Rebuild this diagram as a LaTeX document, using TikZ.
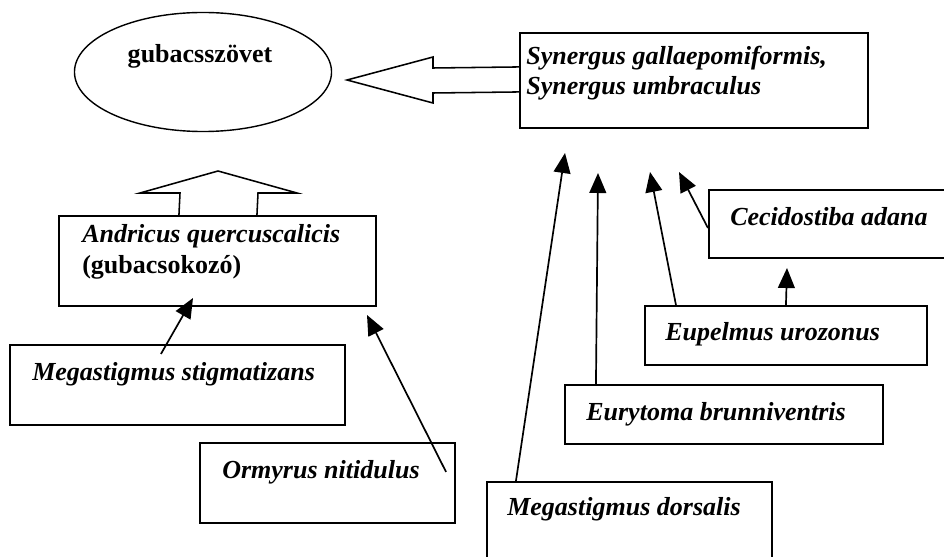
\documentclass[tikz,border=0pt]{standalone}
\usepackage{fontspec}
\setmainfont{Liberation Serif}
\usetikzlibrary{arrows.meta,positioning,shapes.geometric,fit,calc}

\begin{document}
\begin{tikzpicture}[x=0.025cm,y=-0.025cm,
  doboz/.style={draw,line width=1.5pt,inner sep=0pt},
  felirat/.style={font=\fontsize{18.5}{22}\selectfont\bfseries\itshape,inner sep=0pt,align=left},
  nyil/.style={line width=1.2pt,-{Triangle[length=0.5cm,width=0.42cm]}},
  tomor/.style={line width=1.1pt,line join=miter}]
  \useasboundingbox (0,0) rectangle (944,557);
  \node[ellipse,draw,line width=1pt,minimum width=6.425cm,minimum height=2.975cm] (gub) at (203,72) {};
  \node[felirat,font=\fontsize{18.5}{22}\selectfont\bfseries,anchor=base] (gub-t) at (200,63) {gubacsszövet};
  \foreach \n/\a/\b/\c/\d in {synb/520/33/868/128, andr/59/216/376/306, mstig/10/345/345/425,
                              ormy/200/443/455/523, mdors/487/482/772/580, euryt/565/385/883/444,
                              eupel/645/306/927/365, cecid/709/190/970/258}
    \node[doboz,fit={(\a,\b) (\c,\d)}] (\n) {};
  \foreach \n/\x/\y/\t in {mstig/32/380/Megastigmus stigmatizans, ormy/222/478/Ormyrus nitidulus,
                           mdors/507/515/Megastigmus dorsalis, euryt/586/420/Eurytoma brunniventris,
                           eupel/665/340/Eupelmus urozonus, cecid/730/225/Cecidostiba adana}
    \node[felirat,anchor=base west] (\n-t) at (\x,\y) {\t};
  \node[felirat,anchor=base west] (synb-t) at (526,95) {Synergus gallaepomiformis,\\Synergus umbraculus};
  \node[felirat,anchor=base west] (andr-t) at (82,273) {Andricus quercuscalicis\\\upshape(gubacsokozó)};
  % nyilhegyek
  \coordinate (h1) at (193,298); \coordinate (h2) at (367,315);
  \coordinate (h3) at (565,153); \coordinate (h4) at (598,173);
  \coordinate (h5) at (650,172); \coordinate (h6) at (679,172);
  \coordinate (h7) at (787,268);
  \draw[nyil] ($(mstig.north west)+(152,10)$) -- (h1);
  \draw[nyil] ($(ormy.north east)+(-10,30)$) -- (h2);
  \draw[nyil] ($(mdors.north west)+(30,0)$) -- (h3);
  \draw[nyil] ($(euryt.north west)+(32,0)$) -- (h4);
  \draw[nyil] ($(eupel.north west)+(32,0)$) -- (h5);
  \draw[nyil] ($(cecid.west)+(0,4)$) -- (h6);
  \draw[nyil] ($(eupel.north west)+(142,0)$) -- (h7);
  % ures nyilak
  \draw[tomor] ($(synb.north west)+(0,35)$) -- (433,68) -- (433,57) -- (347,80) -- (433,103) -- (433,93) -- ($(synb.north west)+(0,60)$);
  \draw[tomor] ($(andr.north west)+(121,0)$) -- (180,193) -- (140,193) -- (218,171) -- (297,193) -- (258,193) -- ($(andr.north west)+(199,0)$);
\end{tikzpicture}
\end{document}
